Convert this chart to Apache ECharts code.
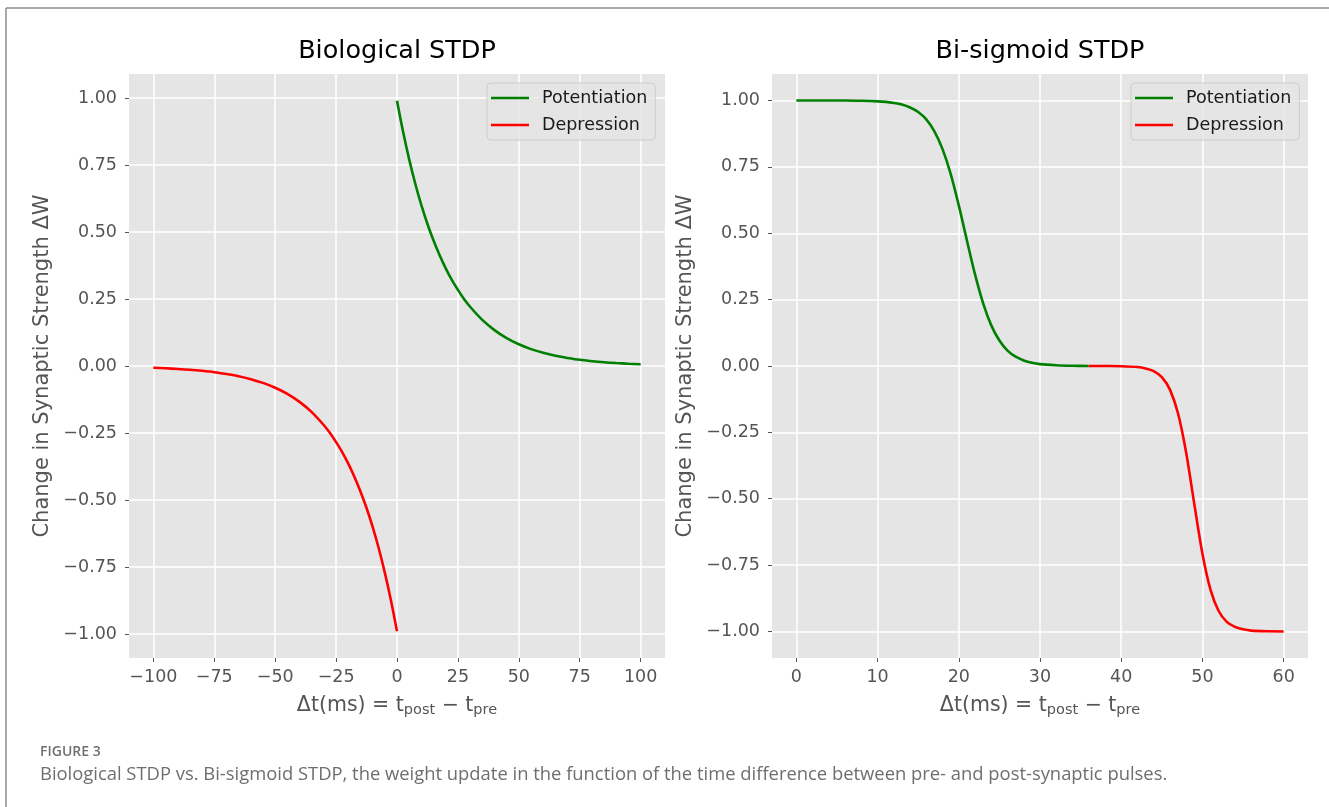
<!DOCTYPE html>
<html>
<head>
<meta charset="utf-8">
<title>Biological STDP vs. Bi-sigmoid STDP</title>
<script src="https://cdn.jsdelivr.net/npm/echarts@6.0.0/dist/echarts.min.js"></script>
<style>
  html, body { margin: 0; padding: 0; background: #fff; }
  #chart { width: 1329px; height: 807px; }
</style>
</head>
<body>
<div id="chart"></div>
<script>
// ---- data ----
// left panel: Biological STDP
var bioPotX = [0, 2.5, 5, 7.5, 10, 12.5, 15, 17.5, 20, 22.5, 25, 27.5, 30, 35, 40, 45, 50, 55, 60, 65, 70, 75, 80, 85, 90, 95, 100];
var bioPot = [0.99, 0.874, 0.771, 0.680, 0.600, 0.530, 0.468, 0.413, 0.364, 0.321, 0.284, 0.250, 0.221, 0.172, 0.134, 0.104, 0.081, 0.063, 0.049, 0.038, 0.030, 0.023, 0.018, 0.014, 0.011, 0.0086, 0.0067];
var bioDepX = [-100, -95, -90, -85, -80, -75, -70, -65, -60, -55, -50, -45, -40, -35, -30, -27.5, -25, -22.5, -20, -17.5, -15, -12.5, -10, -7.5, -5, -2.5, 0];
var bioDep = [-0.0067, -0.0086, -0.011, -0.014, -0.018, -0.023, -0.030, -0.038, -0.049, -0.063, -0.081, -0.104, -0.134, -0.172, -0.221, -0.250, -0.284, -0.321, -0.364, -0.413, -0.468, -0.530, -0.600, -0.680, -0.771, -0.874, -0.99];

// right panel: Bi-sigmoid STDP
var sigPotX = [0, 2, 4, 6, 8, 10, 11, 12, 13, 14, 15, 16, 17, 18, 19, 20, 21, 22, 23, 24, 25, 26, 27, 28, 29, 30, 32, 34, 36];
var sigPot = [1.000, 1.000, 1.000, 1.000, 0.999, 0.997, 0.995, 0.991, 0.985, 0.974, 0.957, 0.929, 0.884, 0.817, 0.724, 0.605, 0.473, 0.345, 0.236, 0.153, 0.096, 0.058, 0.035, 0.021, 0.012, 0.007, 0.003, 0.001, 0.000];
var sigDepX = [36, 38, 40, 42, 43, 44, 45, 46, 47, 48, 49, 50, 51, 52, 53, 54, 55, 56, 58, 60];
var sigDep = [0.000, -0.0002, -0.0008, -0.004, -0.009, -0.019, -0.042, -0.089, -0.179, -0.327, -0.520, -0.707, -0.843, -0.923, -0.964, -0.983, -0.992, -0.997, -0.9995, -1.000];

// tick labels
var yTicks = [-1, -0.75, -0.5, -0.25, 0, 0.25, 0.5, 0.75, 1];
var bioXTicks = [-100, -75, -50, -25, 0, 25, 50, 75, 100];
var sigXTicks = [0, 10, 20, 30, 40, 50, 60];

var titles = ['Biological STDP', 'Bi-sigmoid STDP'];
var seriesNames = ['Potentiation', 'Depression'];
var caption = 'Biological STDP vs. Bi-sigmoid STDP, the weight update in the function of the time difference between pre- and post-synaptic pulses.';

var FONT = 'DejaVu Sans';
var GREEN = '#008000';
var RED = '#ff0000';

function pairs(xs, ys) {
  return xs.map(function (x, i) { return [x, ys[i]]; });
}
function minus(s) {
  return String(s).replace('-', '\u2212');
}

var xName = '{m|\u0394t(ms) = t}{s|post}{m| \u2212 t}{s|pre}';
var xNameStyle = {
  rich: {
    m: { fontSize: 20.5, color: '#555555', fontFamily: FONT },
    s: { fontSize: 14.5, color: '#555555', fontFamily: FONT, padding: [9, 0, 0, 0] }
  }
};

function xAxis(idx, min, max, ticks) {
  return {
    type: 'value', gridIndex: idx, min: min, max: max,
    axisLine: { show: false, onZero: false },
    axisTick: { show: true, customValues: ticks, length: 4, lineStyle: { color: '#555555', width: 1 } },
    axisLabel: {
      customValues: ticks, margin: 10, color: '#555555', fontSize: 17.5, fontFamily: FONT,
      formatter: function (v) { return minus(v); }
    },
    splitLine: { show: true, lineStyle: { color: '#ffffff', width: 1.5 } },
    name: xName, nameLocation: 'middle', nameGap: 36, nameTextStyle: xNameStyle
  };
}

function yAxis(idx, min, max) {
  return {
    type: 'value', gridIndex: idx, min: min, max: max,
    axisLine: { show: false, onZero: false },
    axisTick: { show: true, customValues: yTicks, length: 4, lineStyle: { color: '#555555', width: 1 } },
    axisLabel: {
      customValues: yTicks, margin: 12, color: '#555555', fontSize: 17.5, fontFamily: FONT,
      formatter: function (v) { return minus(v.toFixed(2)); }
    },
    splitLine: { show: true, lineStyle: { color: '#ffffff', width: 1.5 } },
    name: 'Change in Synaptic Strength \u0394W', nameLocation: 'middle', nameGap: 76,
    nameTextStyle: { fontSize: 21, color: '#555555', fontFamily: FONT }
  };
}

function legend(left) {
  return {
    left: left, top: 83, orient: 'vertical', data: seriesNames,
    icon: 'rect', itemWidth: 38, itemHeight: 2.6, itemGap: 9,
    padding: [6, 8, 6, 4],
    backgroundColor: 'rgba(229,229,229,0.8)', borderColor: '#cccccc', borderWidth: 1, borderRadius: 4,
    selectedMode: false,
    textStyle: { fontSize: 17.5, color: '#1a1a1a', fontFamily: FONT, padding: [0, 0, 0, 8] }
  };
}

function line(name, xi, xs, ys, color) {
  return {
    type: 'line', name: name, xAxisIndex: xi, yAxisIndex: xi,
    data: pairs(xs, ys), showSymbol: false, smooth: 0.3,
    lineStyle: { color: color, width: 2.6 }, itemStyle: { color: color },
    emphasis: { disabled: true }
  };
}

var chart = echarts.init(document.getElementById('chart'));
var option = {
  backgroundColor: '#ffffff',
  animation: false,
  title: [
    { text: titles[0], left: 397, top: 38, textAlign: 'center', padding: 0,
      textStyle: { fontSize: 25.5, fontWeight: 'normal', color: '#000', fontFamily: FONT } },
    { text: titles[1], left: 1040, top: 38, textAlign: 'center', padding: 0,
      textStyle: { fontSize: 25.5, fontWeight: 'normal', color: '#000', fontFamily: FONT } }
  ],
  grid: [
    { left: 129, top: 74, width: 536, height: 584, show: true, backgroundColor: '#e5e5e5', borderWidth: 0, outerBoundsMode: 'none' },
    { left: 772, top: 74, width: 536, height: 584, show: true, backgroundColor: '#e5e5e5', borderWidth: 0, outerBoundsMode: 'none' }
  ],
  xAxis: [xAxis(0, -110, 110, bioXTicks), xAxis(1, -3, 63, sigXTicks)],
  yAxis: [yAxis(0, -1.0895, 1.0895), yAxis(1, -1.1, 1.1)],
  legend: [legend(487), legend(1131)],
  series: [
    line(seriesNames[0], 0, bioPotX, bioPot, GREEN),
    line(seriesNames[1], 0, bioDepX, bioDep, RED),
    line(seriesNames[0], 1, sigPotX, sigPot, GREEN),
    line(seriesNames[1], 1, sigDepX, sigDep, RED)
  ],
  graphic: [
    { type: 'line', shape: { x1: 6, y1: 8, x2: 1329, y2: 8 }, style: { stroke: '#8c8c8c', lineWidth: 1.5 } },
    { type: 'line', shape: { x1: 6, y1: 8, x2: 6, y2: 807 }, style: { stroke: '#8c8c8c', lineWidth: 1.5 } },
    { type: 'text', left: 40, top: 745, style: { text: 'FIGURE 3', fontSize: 14, fontWeight: 600, fill: '#707070', fontFamily: 'Open Sans' } },
    { type: 'text', left: 40, top: 766, style: { text: caption, fontSize: 18.4, fill: '#6e6e6e', fontFamily: 'Open Sans' } }
  ]
};
chart.setOption(option);
</script>
</body>
</html>
